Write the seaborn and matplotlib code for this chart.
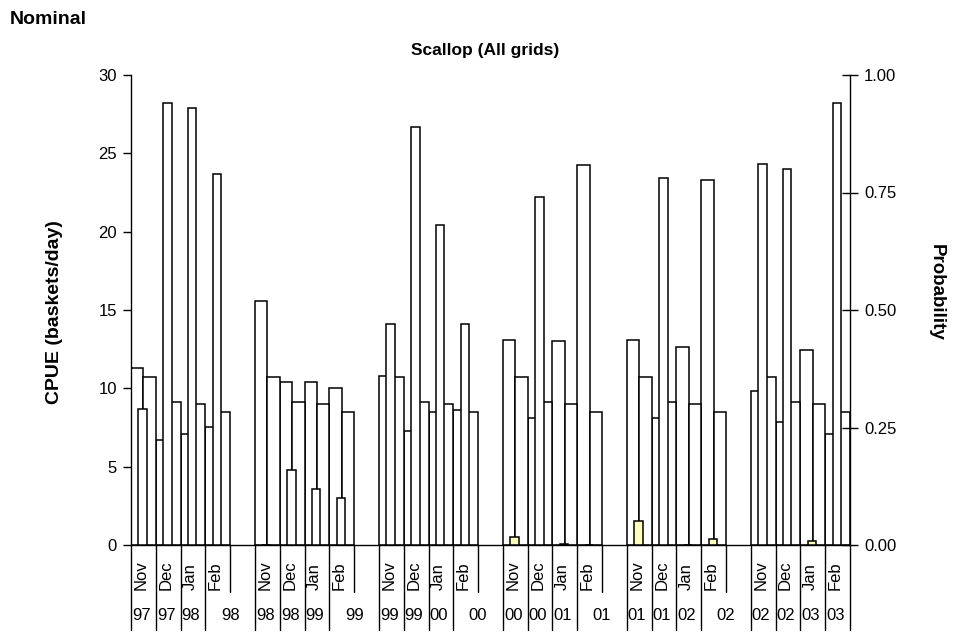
import matplotlib
matplotlib.use("Agg")
import matplotlib.pyplot as plt
import seaborn as sns
import pandas as pd
from matplotlib import transforms
from matplotlib.lines import Line2D
from matplotlib.ticker import FormatStrFormatter

# ---------------- data ----------------
months = ["Nov", "Dec", "Jan", "Feb"]
seasons = ["97/98", "98/99", "99/00", "00/01", "01/02", "02/03"]
year_labels = ["97", "97", "98", "98",
               "98", "98", "99", "99",
               "99", "99", "00", "00",
               "00", "00", "01", "01",
               "01", "01", "02", "02",
               "02", "02", "03", "03"]
nominal_cpue = [11.3, 6.7, 7.1, 7.55,
                15.6, 10.4, 10.4, 10.05,
                10.8, 7.3, 8.5, 8.6,
                13.1, 8.1, 13.0, 24.25,
                13.1, 8.1, 12.65, 23.3,
                9.8, 7.85, 12.45, 7.1]
reference_cpue = [10.7, 9.1, 9.0, 8.5,
                  10.7, 9.1, 9.0, 8.5,
                  10.7, 9.1, 9.0, 8.5,
                  10.7, 9.1, 9.0, 8.5,
                  10.7, 9.1, 9.0, 8.5,
                  10.7, 9.1, 9.0, 8.5]
probability = [0.29, 0.94, 0.93, 0.79,
               0.0, 0.16, 0.12, 0.10,
               0.47, 0.89, 0.68, 0.47,
               0.018, 0.74, 0.003, 0.0,
               0.051, 0.78, 0.0, 0.012,
               0.81, 0.80, 0.009, 0.94]

# ---------------- build categories ----------------
ids, order, kinds = [], [], []
for s in range(len(seasons)):
    for m in range(4):
        cid = f"{months[m]}_{s}"
        ids.append(cid)
        order.append(cid)
        kinds.append("month")
    if s < len(seasons) - 1:
        order.append(f"gap_{s}")
        kinds.append("gap")

df_cpue = pd.DataFrame({
    "cat": ids + ids,
    "cpue": nominal_cpue + reference_cpue,
    "series": ["Nominal"] * len(ids) + ["Reference"] * len(ids),
})
df_prob = pd.DataFrame({
    "cat": ids,
    "prob": probability,
    "flag": ["sig" if 0 < p < 0.06 else "ns" for p in probability],
})

sns.set_theme(style="white")
plt.rcParams['font.family'] = ['Liberation Sans', 'DejaVu Sans']

W, H = 966, 632
fig = plt.figure(figsize=(W / 100, H / 100), dpi=100)
ax = fig.add_axes([131 / W, 1 - 545 / H, (850 - 131) / W, (545 - 75) / H])

sns.barplot(data=df_cpue, x="cat", y="cpue", hue="series", order=order,
            hue_order=["Nominal", "Reference"], palette=["white", "white"],
            width=1.0, dodge=True, saturation=1, edgecolor="black",
            linewidth=1.1, errorbar=None, legend=False, ax=ax)

ax2 = ax.twinx()
sns.barplot(data=df_prob, x="cat", y="prob", hue="flag", order=order,
            hue_order=["ns", "sig"], palette={"ns": "white", "sig": "#FFFFC0"},
            width=0.34, dodge=False, saturation=1, edgecolor="black",
            linewidth=1.1, errorbar=None, legend=False, ax=ax2)
for p in ax2.patches:
    p.set_x(p.get_x() - 0.03)

n = len(order)
for a in (ax, ax2):
    a.set_xlim(-0.5, n - 0.5)
    a.set_xticks([])
    a.set_xlabel("")
    a.set_ylabel("")
    a.spines["top"].set_visible(False)
ax.set_ylim(0, 30)
ax.set_yticks(range(0, 31, 5))
ax2.set_ylim(0, 1)
ax2.set_yticks([0, 0.25, 0.5, 0.75, 1.0])
ax2.yaxis.set_major_formatter(FormatStrFormatter("%.2f"))

ax.spines["right"].set_visible(False)
ax2.spines["left"].set_visible(False)
ax2.spines["bottom"].set_visible(False)
for sp in ("left", "bottom"):
    ax.spines[sp].set_color("black")
    ax.spines[sp].set_linewidth(1.0)
ax2.spines["right"].set_color("black")
ax2.spines["right"].set_linewidth(1.0)

ax.tick_params(axis="y", left=True, direction="out", length=6, width=1,
               color="black", labelsize=12, pad=4, labelcolor="black")
ax2.tick_params(axis="y", right=True, direction="inout", length=12, width=1,
                color="black", labelsize=12, pad=4, labelcolor="black")

# ---------------- category axis decorations ----------------
blend = transforms.blended_transform_factory(ax.transData, fig.transFigure)
y_axis = 1 - 545 / H
y_short = 1 - 592 / H
y_long = 1 - 630 / H
for i in range(n + 1):
    b = i - 0.5
    short = i < n and kinds[i] == "gap"
    fig.add_artist(Line2D([b, b], [y_axis, y_short if short else y_long],
                          transform=blend, color="black", lw=1.0))

month_y = 1 - 590 / H
year_y = 1 - 616 / H
k = 0
for idx, kind in enumerate(order):
    if kinds[idx] != "month":
        continue
    mname = months[k % 4]
    fig.text(idx - 0.5 + 0.1, month_y, mname, rotation=90, ha="left",
             va="bottom", fontsize=12, transform=blend, color="black")
    has_gap = idx + 1 < n and kinds[idx + 1] == "gap"
    if mname == "Feb" and has_gap:
        fig.text(idx + 0.5, year_y, year_labels[k], ha="center", va="center",
                 fontsize=12, transform=blend, color="black")
    else:
        fig.text(idx - 0.5 + 0.04, year_y, year_labels[k], ha="left",
                 va="center", fontsize=12, transform=blend, color="black")
    k += 1

# ---------------- titles ----------------
fig.text(10 / W, 1 - 20 / H, "Nominal", ha="left", va="center",
         fontsize=14, fontweight="bold", color="black")
fig.text(485 / W, 1 - 50 / H, "Scallop (All grids)", ha="center", va="center",
         fontsize=12.5, fontweight="bold", color="black")
fig.text(55 / W, 1 - 312 / H, "CPUE (baskets/day)", rotation=90, ha="center",
         va="center", fontsize=14, fontweight="bold", color="black")
fig.text(936 / W, 1 - 292 / H, "Probability", rotation=270, ha="center",
         va="center", fontsize=13.5, fontweight="bold", color="black")

fig.savefig("out.png", dpi=100)
